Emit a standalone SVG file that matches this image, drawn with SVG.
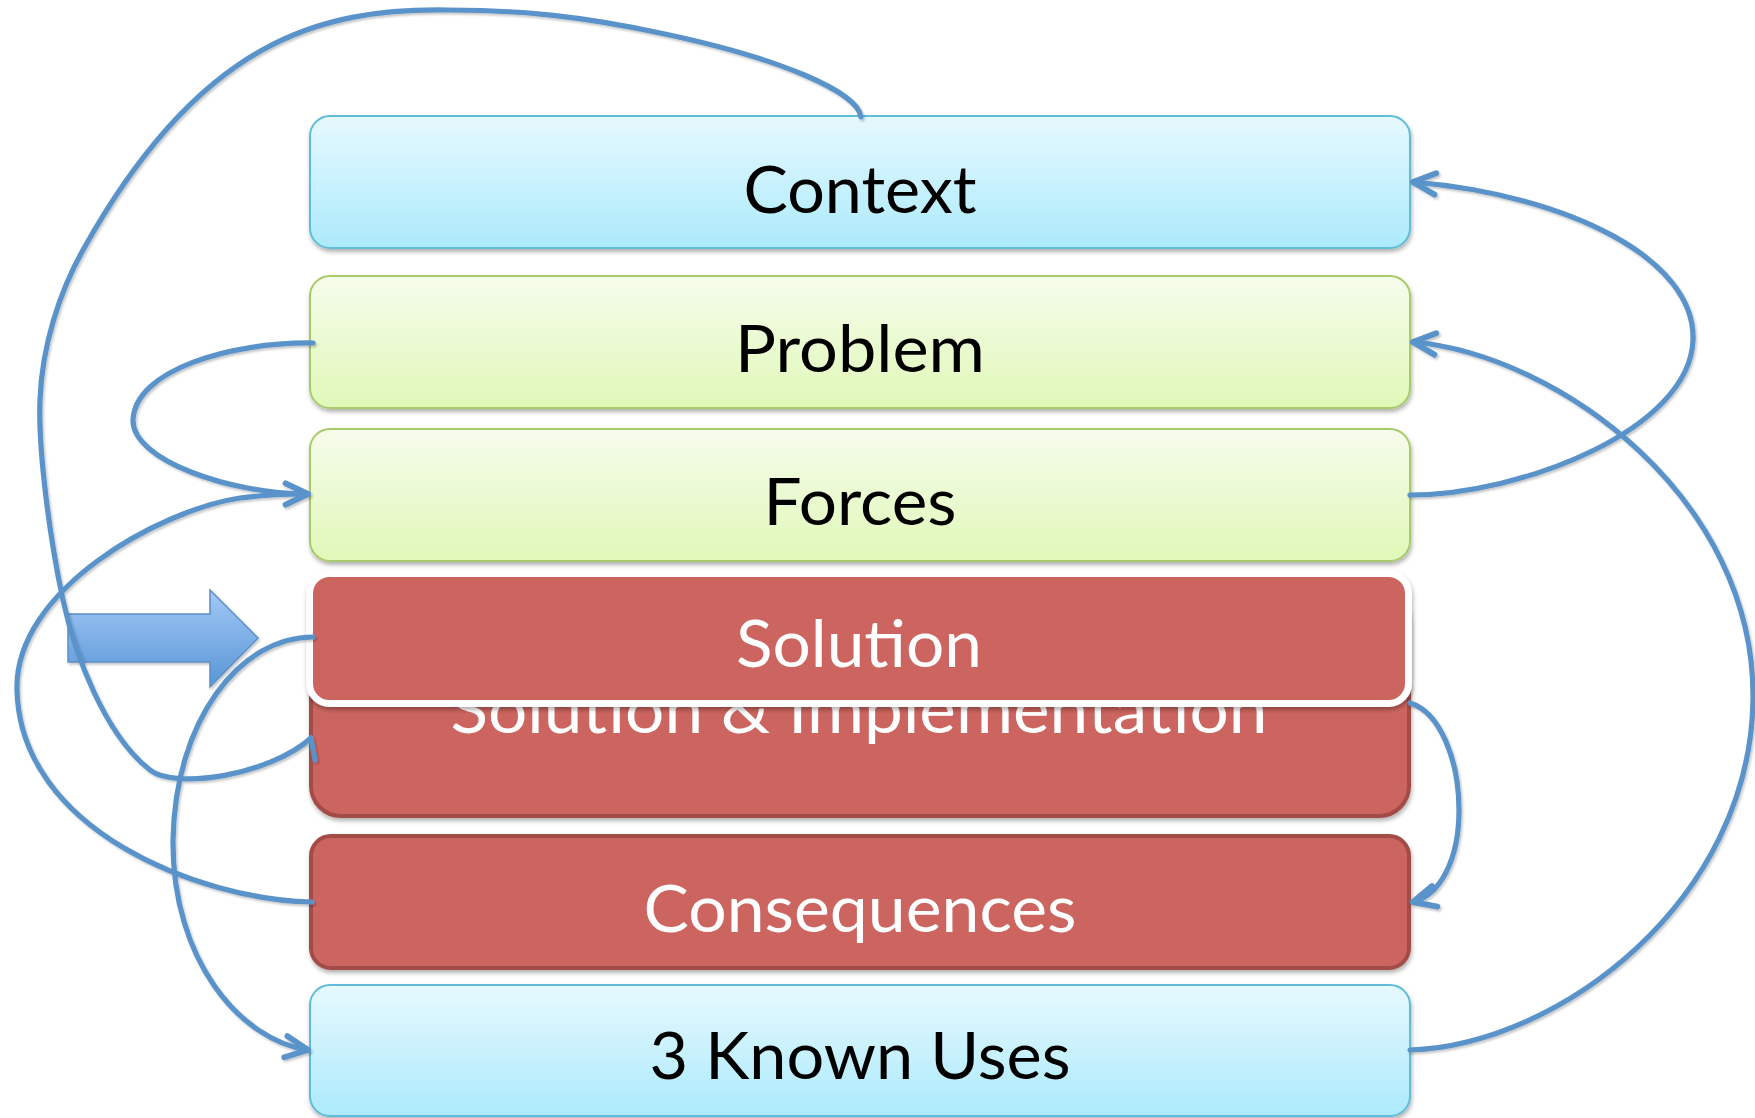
<svg xmlns="http://www.w3.org/2000/svg" width="1755" height="1118" viewBox="0 0 1755 1118">
  <defs>
    <linearGradient id="gBlue" x1="0" y1="0" x2="0" y2="1">
      <stop offset="0" stop-color="#e6f9fe"/>
      <stop offset="1" stop-color="#aceafc"/>
    </linearGradient>
    <linearGradient id="gGreen" x1="0" y1="0" x2="0" y2="1">
      <stop offset="0" stop-color="#f6fcec"/>
      <stop offset="1" stop-color="#e0f8b8"/>
    </linearGradient>
    <linearGradient id="gArrow" x1="0" y1="0" x2="0" y2="1">
      <stop offset="0" stop-color="#a3c8f7"/>
      <stop offset="1" stop-color="#5896d6"/>
    </linearGradient>
    <filter id="boxShadow" x="-5%" y="-20%" width="110%" height="150%">
      <feDropShadow dx="1" dy="3" stdDeviation="2" flood-color="#000" flood-opacity="0.3"/>
    </filter>
    <filter id="lineShadow" x="-10%" y="-10%" width="120%" height="120%">
      <feDropShadow dx="1.5" dy="2" stdDeviation="1.2" flood-color="#000" flood-opacity="0.22"/>
    </filter>
    <marker id="open" markerUnits="userSpaceOnUse" markerWidth="32" markerHeight="32" viewBox="-25 -15 30 30" refX="0" refY="0" orient="auto">
      <path d="M -21 -10 L 0 0 L -21 10" fill="none" stroke="#5a93ca" stroke-width="5.5" stroke-linecap="round" stroke-linejoin="round"/>
    </marker>
    <style>
      .box { filter: url(#boxShadow); }
      .blue { fill: url(#gBlue); stroke: #5fbdd8; stroke-width: 2; }
      .green { fill: url(#gGreen); stroke: #a8cb6a; stroke-width: 2; }
      .red { fill: #cc655f; stroke: #a24b46; stroke-width: 4; }
      .redfront { fill: #cc655f; stroke: #ffffff; stroke-width: 7; }
      .lbl { font-family: Lato, "Open Sans", "Liberation Sans", sans-serif; font-size: 66px; text-anchor: middle; }
      .dark { fill: #000000; }
      .light { fill: #ffffff; }
      .conn path { fill: none; stroke: #5a93ca; stroke-width: 5.2; stroke-linecap: round; }
    </style>
  </defs>

  <rect width="1755" height="1118" fill="#ffffff"/>

  <!-- block arrow pointing at the Solution step -->
  <polygon points="68,614 210,614 210,590 258,638 210,687 210,662 68,662" fill="url(#gArrow)" stroke="#5b8fc8" stroke-width="1.5" filter="url(#lineShadow)"/>

  <g id="context" class="box">
    <rect class="blue" x="310" y="116" width="1100" height="132" rx="20"/>
    <text class="lbl dark" x="860" y="212.5" textLength="233" lengthAdjust="spacingAndGlyphs">Context</text>
  </g>

  <g id="problem" class="box">
    <rect class="green" x="310" y="276" width="1100" height="132" rx="20"/>
    <text class="lbl dark" x="860" y="372" textLength="250" lengthAdjust="spacingAndGlyphs">Problem</text>
  </g>

  <g id="forces" class="box">
    <rect class="green" x="310" y="429" width="1100" height="132" rx="20"/>
    <text class="lbl dark" x="860" y="525" textLength="193" lengthAdjust="spacingAndGlyphs">Forces</text>
  </g>

  <!-- the taller step sits behind the Solution step, its label partly covered -->
  <g id="solution-implementation" class="box">
    <rect class="red" x="311" y="590" width="1098" height="226" rx="30"/>
    <text class="lbl light" x="859" y="733" textLength="817" lengthAdjust="spacingAndGlyphs">Solution &amp; Implementation</text>
  </g>

  <g id="solution" class="box">
    <rect class="redfront" x="309.5" y="573.5" width="1099" height="130" rx="20"/>
    <text class="lbl light" x="859" y="667" textLength="246" lengthAdjust="spacingAndGlyphs">Solution</text>
  </g>

  <g id="consequences" class="box">
    <rect class="red" x="311" y="836" width="1098" height="132" rx="20"/>
    <text class="lbl light" x="860" y="932" textLength="433" lengthAdjust="spacingAndGlyphs">Consequences</text>
  </g>

  <g id="known-uses" class="box">
    <rect class="blue" x="310" y="985" width="1100" height="131" rx="20"/>
    <text class="lbl dark" x="860" y="1079" textLength="421" lengthAdjust="spacingAndGlyphs">3 Known Uses</text>
  </g>

  <g id="connectors" class="conn" filter="url(#lineShadow)">
    <!-- Context top, round the left, into Solution & Implementation -->
    <path d="M 861 117 C 858 92, 780 58, 660 33 C 580 16, 520 10, 448 10 C 320 8, 200 40, 83 250 C 60 291, 42 345, 40 400 C 38 450, 50 540, 63 600 C 75 655, 105 735, 150 770 C 175 790, 270 775, 311 738"/>
    <path d="M 311 738 L 315 760"/>
    <!-- Forces right back to Context -->
    <path d="M 1410 495 C 1520 495, 1690 430, 1693 340 C 1696 260, 1570 195, 1413 182" marker-end="url(#open)"/>
    <!-- 3 Known Uses right back to Problem -->
    <path d="M 1410 1050 C 1560 1045, 1750 900, 1753 700 C 1756 500, 1560 355, 1413 342" marker-end="url(#open)"/>
    <!-- Problem left loop into Forces -->
    <path d="M 313 343 C 230 342, 135 370, 133 420 C 132 460, 230 494, 308 494" marker-end="url(#open)"/>
    <!-- Consequences left into Forces -->
    <path d="M 312 902 C 200 900, 20 830, 17 690 C 14 590, 160 510, 240 498 C 270 494, 290 494, 308 494"/>
    <!-- Solution left down to 3 Known Uses -->
    <path d="M 313 637 C 240 637, 175 720, 173 840 C 172 960, 240 1040, 308 1050" marker-end="url(#open)"/>
    <!-- Solution & Implementation right down to Consequences -->
    <path d="M 1410 703 C 1440 712, 1459 760, 1459 810 C 1459 860, 1440 895, 1413 902" marker-end="url(#open)"/>
  </g>
</svg>
